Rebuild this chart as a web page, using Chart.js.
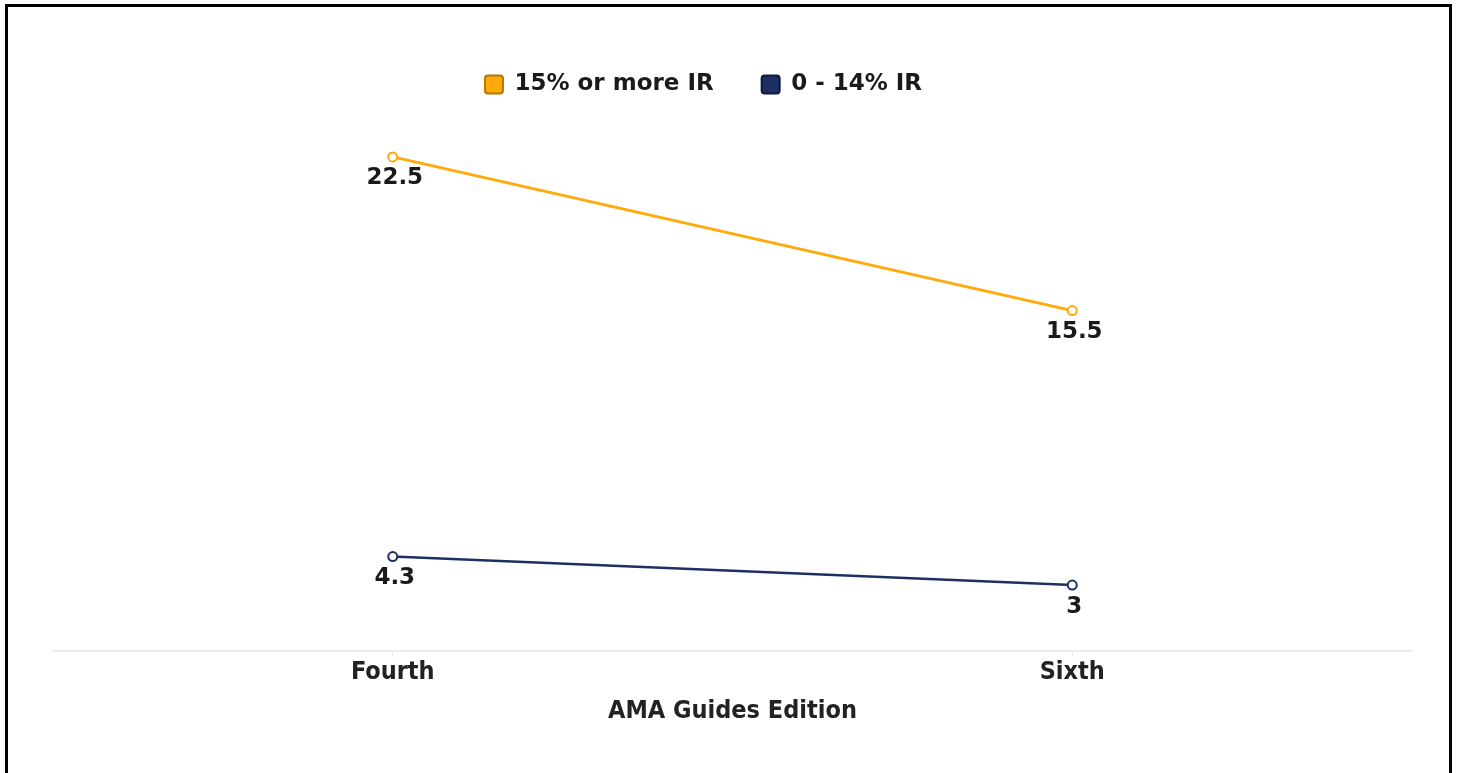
<!DOCTYPE html>
<html>
<head>
<meta charset="utf-8">
<script src="https://cdn.jsdelivr.net/npm/chart.js@4.4.1/dist/chart.umd.min.js"></script>
<style>
    html, body { margin: 0; padding: 0; background: #fff; }
    #frame {
        position: absolute;
        left: 5px;
        top: 4px;
        width: 1441px;
        height: 800px;
        border: 3px solid #000;
        overflow: hidden;
    }
    #box {
        position: absolute;
        left: 0;
        top: 0;
        width: 1441px;
        height: 766px;
    }
</style>
</head>
<body>
<div id="frame">
    <div id="box"><canvas id="editionChart"></canvas></div>
</div>
<script>
const editions = ['Fourth', 'Sixth'];
const highIR = [22.5, 15.5];
const lowIR = [4.3, 3];
const seriesNames = ['15% or more IR', '0 - 14% IR'];

const orange = '#FFA90A';
const navy = '#1E2F63';
const wideFont = '"DejaVu Sans", Verdana, sans-serif';
const narrowFont = '"DejaVu Sans Condensed", "Liberation Sans Narrow", sans-serif';

// values written under each point
const pointLabels = {
    id: 'pointLabels',
    afterDatasetsDraw(chart) {
        const ctx = chart.ctx;
        ctx.save();
        ctx.font = 'bold 23px ' + wideFont;
        ctx.fillStyle = '#1a1a1a';
        ctx.textAlign = 'center';
        ctx.textBaseline = 'top';
        chart.data.datasets.forEach((ds, i) => {
            chart.getDatasetMeta(i).data.forEach((pt, j) => {
                ctx.fillText(String(ds.data[j]), pt.x + 2, pt.y + 10);
            });
        });
        ctx.restore();
    }
};

// legend sits a bit left of centre and a little lower in the original
const legendShift = {
    id: 'legendShift',
    afterLayout(chart) {
        if (chart.legend) {
            chart.legend.left -= 29;
            chart.legend.right -= 29;
            chart.legend.top += 4;
            chart.legend.bottom += 4;
        }
    }
};

const ctx = document.getElementById('editionChart');
new Chart(ctx, {
    type: 'line',
    data: {
        labels: editions,
        datasets: [
            {
                label: seriesNames[0],
                data: highIR,
                borderColor: orange,
                backgroundColor: orange,
                borderWidth: 2.8,
                pointRadius: 4.5,
                pointBorderWidth: 2,
                pointBackgroundColor: '#fff',
                pointBorderColor: orange,
                tension: 0
            },
            {
                label: seriesNames[1],
                data: lowIR,
                borderColor: navy,
                backgroundColor: navy,
                borderWidth: 2.5,
                pointRadius: 4.5,
                pointBorderWidth: 2,
                pointBackgroundColor: '#fff',
                pointBorderColor: navy,
                tension: 0
            }
        ]
    },
    options: {
        responsive: true,
        maintainAspectRatio: false,
        animation: false,
        layout: {
            padding: { left: 45, right: 37, top: 14, bottom: 43 }
        },
        plugins: {
            legend: {
                position: 'top',
                labels: {
                    boxWidth: 18,
                    boxHeight: 18,
                    useBorderRadius: true,
                    borderRadius: 3,
                    padding: 48,
                    color: '#1a1a1a',
                    font: { family: wideFont, size: 23, weight: 'bold' },
                    generateLabels(chart) {
                        const items = Chart.defaults.plugins.legend.labels.generateLabels(chart);
                        items.forEach((it, i) => {
                            it.strokeStyle = i === 0 ? '#B87800' : '#0E1A40';
                            it.lineWidth = 2;
                        });
                        return items;
                    }
                }
            },
            tooltip: { enabled: false }
        },
        scales: {
            x: {
                offset: true,
                grid: {
                    display: true,
                    drawOnChartArea: false,
                    color: '#e8e8e8',
                    tickLength: 6
                },
                border: { display: true, color: '#e8e8e8', width: 1.5 },
                ticks: {
                    color: '#222',
                    padding: 0,
                    font: { family: narrowFont, size: 25, weight: 'bold' }
                },
                title: {
                    display: true,
                    text: 'AMA Guides Edition',
                    color: '#222',
                    padding: { top: 9 },
                    font: { family: narrowFont, size: 25, weight: 'bold' }
                }
            },
            y: {
                display: false,
                min: 0,
                max: 25
            }
        }
    },
    plugins: [pointLabels, legendShift]
});
</script>
</body>
</html>
